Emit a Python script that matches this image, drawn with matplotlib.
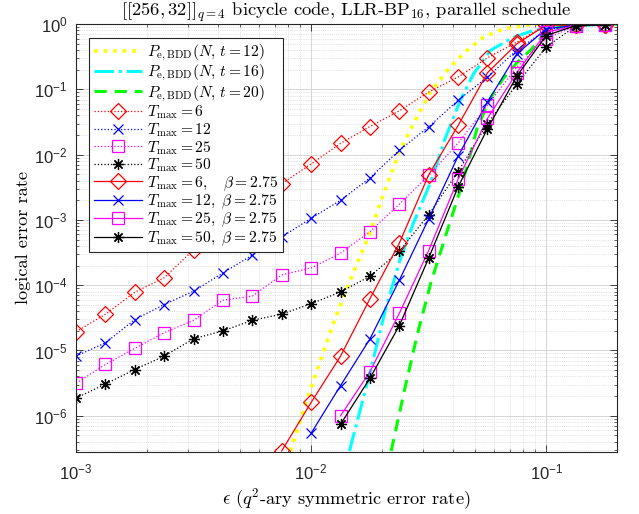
import numpy as np
import matplotlib
matplotlib.use('Agg')
import matplotlib.pyplot as plt
from matplotlib.ticker import LogLocator, NullFormatter

# tick labels in a Helvetica-like sans, everything else in Computer Modern
plt.rcParams['font.family'] = 'Liberation Sans'
plt.rcParams['mathtext.fontset'] = 'custom'
plt.rcParams['mathtext.rm'] = 'Liberation Sans'
plt.rcParams['mathtext.it'] = 'Liberation Sans:italic'
plt.rcParams['mathtext.bf'] = 'Liberation Sans:bold'

# error rates of the simulated points
eps = [1.000e-3, 1.334e-3, 1.778e-3, 2.371e-3, 3.162e-3, 4.217e-3, 5.623e-3,
       7.499e-3, 1.000e-2, 1.334e-2, 1.778e-2, 2.371e-2, 3.162e-2, 4.217e-2,
       5.623e-2, 7.499e-2, 1.000e-1, 1.334e-1, 1.778e-1]

# plain LLR-BP, dotted curves
ler_t6 = [1.94e-5, 3.6e-5, 7.8e-5, 1.3e-4, 3.5e-4, 7.9e-4, 1.7e-3, 3.6e-3, 7.2e-3,
          1.49e-2, 2.7e-2, 4.7e-2, 9.1e-2, 0.155, 0.305, 0.53, 0.98, 0.96, 0.97]
ler_t12 = [8.2e-6, 1.31e-5, 2.98e-5, 5.06e-5, 8.1e-5, 1.54e-4, 2.9e-4, 5.5e-4, 1.06e-3,
           2.0e-3, 4.4e-3, 1.17e-2, 2.67e-2, 6.8e-2, 0.155, 0.40, 0.82, 0.95, 0.97]
ler_t25 = [3.15e-6, 6.1e-6, 1.08e-5, 1.87e-5, 2.9e-5, 5.9e-5, 6.8e-5, 1.44e-4, 1.84e-4,
           3.1e-4, 6.6e-4, 1.74e-3, 4.8e-3, 1.5e-2, 5.7e-2, 0.22, 0.60, 0.94, 0.97]
ler_t50 = [1.86e-6, 3.07e-6, 5.1e-6, 8.2e-6, 1.51e-5, 2.0e-5, 2.9e-5, 3.6e-5, 5.2e-5,
           7.9e-5, 1.37e-4, 3.3e-4, 1.2e-3, 5.5e-3, 3.0e-2, 0.12, 0.45, 0.93, 0.97]

# with beta = 2.75, solid curves (start further right)
eps_b6 = eps[7:]
ler_b6 = [2.9e-7, 1.6e-6, 8.2e-6, 6.2e-5, 4.4e-4, 4.9e-3, 2.8e-2, 0.18, 0.50, 0.97, 0.96, 0.97]
eps_b12 = eps[8:]
ler_b12 = [5.4e-7, 2.9e-6, 1.5e-5, 1.19e-4, 1.04e-3, 9.5e-3, 6.4e-2, 0.35, 0.85, 0.96, 0.97]
eps_b25 = eps[9:]
ler_b25 = [1.0e-6, 4.7e-6, 3.7e-5, 3.4e-4, 4.2e-3, 3.6e-2, 0.18, 0.75, 0.95, 0.97]
eps_b50 = eps[9:]
ler_b50 = [7.4e-7, 3.75e-6, 2.4e-5, 2.6e-4, 3.2e-3, 2.5e-2, 0.16, 0.67, 0.95, 0.97]

# bounded distance decoding curves
eps_bdd12 = [8.15e-3, 1.0e-2, 1.26e-2, 1.47e-2, 1.78e-2, 2.03e-2, 2.39e-2, 2.82e-2,
             3.21e-2, 3.9e-2, 4.6e-2, 5.4e-2, 6.6e-2, 8.8e-2, 0.2]
p_bdd12 = [2.88e-7, 2.73e-6, 2.99e-5, 1.22e-4, 6.3e-4, 2.5e-3, 1.17e-2, 3.8e-2,
           9.1e-2, 0.22, 0.395, 0.63, 0.85, 1.0, 1.0]
eps_bdd16 = [1.455e-2, 1.78e-2, 2.07e-2, 2.39e-2, 2.72e-2, 3.21e-2, 3.72e-2, 4.31e-2,
             4.91e-2, 5.78e-2, 7.26e-2, 8.83e-2, 0.115, 0.2]
p_bdd16 = [2.88e-7, 4.58e-6, 4.24e-5, 2.46e-4, 8.9e-4, 3.65e-3, 1.79e-2, 6.8e-2,
           0.174, 0.395, 0.63, 0.80, 0.95, 1.0]
eps_bdd20 = [2.19e-2, 2.51e-2, 2.85e-2, 3.24e-2, 3.72e-2, 4.31e-2, 4.75e-2, 5.08e-2,
             5.78e-2, 6.57e-2, 7.53e-2, 8.55e-2, 9.7e-2, 0.115, 0.153, 0.2]
p_bdd20 = [2.88e-7, 2.73e-6, 1.96e-5, 1.13e-4, 5.5e-4, 2.88e-3, 9.9e-3, 2.55e-2,
           7.3e-2, 0.148, 0.26, 0.395, 0.67, 0.92, 0.99, 1.0]

x_ticks = [1e-3, 1e-2, 1e-1]
y_ticks = [1e-6, 1e-5, 1e-4, 1e-3, 1e-2, 1e-1, 1e0]

fig = plt.figure(figsize=(6.39, 5.14), dpi=100)
ax = fig.add_axes([0.119, 0.121, 0.8466, 0.832])

ax.plot(eps_bdd12, p_bdd12, color=(1, 1, 0), ls=':', lw=2.6,
        label=r'$P_{\mathrm{e,BDD}}(N,\, t=12)$')
ax.plot(eps_bdd16, p_bdd16, color=(0, 1, 1), ls='-.', lw=2.2,
        label=r'$P_{\mathrm{e,BDD}}(N,\, t=16)$')
ax.plot(eps_bdd20, p_bdd20, color=(0, 1, 0), ls='--', dashes=(4, 2.6), lw=2.2,
        label=r'$P_{\mathrm{e,BDD}}(N,\, t=20)$')

star = (8, 2, 0)
ax.plot(eps, ler_t6, color='r', ls=':', lw=0.9, marker='D', ms=8, mfc='none', mew=0.9,
        label=r'$T_{\max}=6$')
ax.plot(eps, ler_t12, color='b', ls=':', lw=0.9, marker='x', ms=7, mew=0.9,
        label=r'$T_{\max}=12$')
ax.plot(eps, ler_t25, color=(1, 0, 1), ls=':', lw=0.9, marker='s', ms=8, mfc='none', mew=0.9,
        label=r'$T_{\max}=25$')
ax.plot(eps, ler_t50, color='k', ls=':', lw=0.9, marker=star, ms=8, mew=0.9,
        label=r'$T_{\max}=50$')

ax.plot(eps_b6, ler_b6, color='r', ls='-', lw=0.9, marker='D', ms=8, mfc='none', mew=0.9,
        label=r'$T_{\max}=6,\ \ \ \beta=2.75$')
ax.plot(eps_b12, ler_b12, color='b', ls='-', lw=0.9, marker='x', ms=7, mew=0.9,
        label=r'$T_{\max}=12,\ \beta=2.75$')
ax.plot(eps_b25, ler_b25, color=(1, 0, 1), ls='-', lw=0.9, marker='s', ms=8, mfc='none', mew=0.9,
        label=r'$T_{\max}=25,\ \beta=2.75$')
ax.plot(eps_b50, ler_b50, color='k', ls='-', lw=0.9, marker=star, ms=8, mew=0.9,
        label=r'$T_{\max}=50,\ \beta=2.75$')

ax.set_xscale('log')
ax.set_yscale('log')
ax.set_xlim(1e-3, 0.2)
ax.set_ylim(2.8e-7, 1)
ax.set_xticks(x_ticks)
ax.set_yticks(y_ticks)

for axis in (ax.xaxis, ax.yaxis):
    axis.set_minor_locator(LogLocator(base=10, subs=np.arange(2, 10), numticks=20))
    axis.set_minor_formatter(NullFormatter())

ax.grid(True, which='major', color='#d6d6d6', lw=0.7, ls='-')
ax.grid(True, which='minor', color='#cccccc', lw=0.5, ls=':')
ax.set_axisbelow(True)

ax.tick_params(which='both', direction='in', top=True, right=True, colors='#262626',
               labelsize=12)
ax.tick_params(which='major', length=5, width=0.6)
ax.tick_params(axis='x', which='major', pad=8)
ax.tick_params(axis='y', which='major', pad=6)
ax.tick_params(which='minor', length=2.5, width=0.5)
for sp in ax.spines.values():
    sp.set_color('#262626')
    sp.set_linewidth(0.8)

ax.set_title(r'$[[256,32]]_{q=4}$ bicycle code, LLR-BP$_{16}$, parallel schedule',
             fontfamily='cmr10', math_fontfamily='cm', fontsize=13.4, pad=3)
ax.set_xlabel(r'$\epsilon$ ($q^2$-ary symmetric error rate)', fontfamily='cmr10',
              math_fontfamily='cm', fontsize=13.2, labelpad=3)
ax.set_ylabel('logical error rate', fontfamily='cmr10', fontsize=13.2, labelpad=2)

leg = ax.legend(loc='upper left', bbox_to_anchor=(0.024, 0.967), borderaxespad=0,
                prop={'family': 'cmr10', 'size': 11.2}, handlelength=3.1,
                handletextpad=0.3, labelspacing=0.0, borderpad=0.3,
                fancybox=False, framealpha=1, edgecolor='#262626', numpoints=1)
leg.get_frame().set_linewidth(0.8)
for t in leg.get_texts():
    t.set_math_fontfamily('cm')

fig.savefig('out.png', dpi=100)
